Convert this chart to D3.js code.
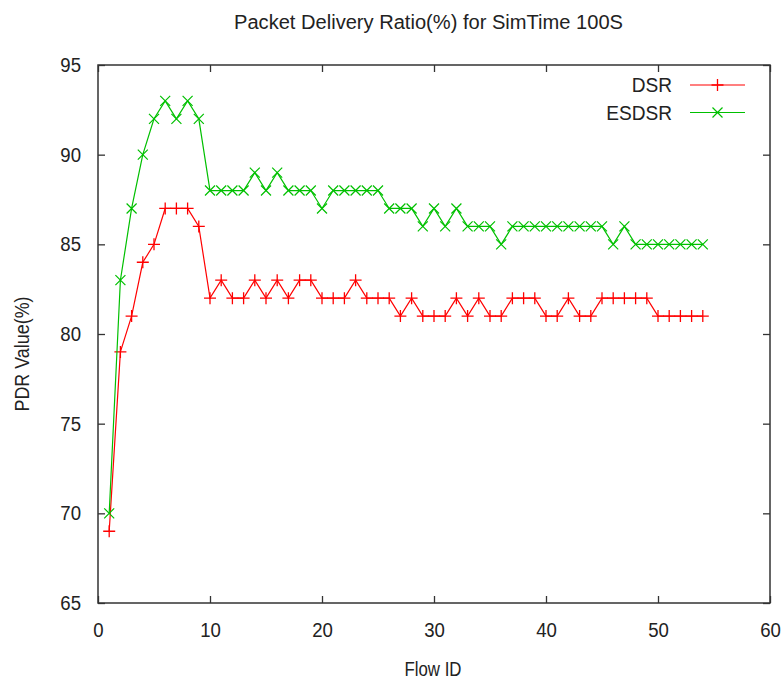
<!DOCTYPE html>
<html>
<head>
<meta charset="utf-8">
<script src="https://cdn.jsdelivr.net/npm/d3@7"></script>
<style>
  html, body { margin: 0; padding: 0; background: #fff; }
  svg text { font-family: "Liberation Sans", Arial, sans-serif; fill: #222; }
</style>
</head>
<body>
<svg id="chart" width="784" height="681"></svg>
<script>
// flow ids 1..54
var flowIds = d3.range(1, 55);

// packet delivery ratio per flow
var dsrValues = [69, 79, 81, 84, 85, 87, 87, 87, 86, 82,
                 83, 82, 82, 83, 82, 83, 82, 83, 83, 82,
                 82, 82, 83, 82, 82, 82, 81, 82, 81, 81,
                 81, 82, 81, 82, 81, 81, 82, 82, 82, 81,
                 81, 82, 81, 81, 82, 82, 82, 82, 82, 81,
                 81, 81, 81, 81];
var esdsrValues = [70, 83, 87, 90, 92, 93, 92, 93, 92, 88,
                   88, 88, 88, 89, 88, 89, 88, 88, 88, 87,
                   88, 88, 88, 88, 88, 87, 87, 87, 86, 87,
                   86, 87, 86, 86, 86, 85, 86, 86, 86, 86,
                   86, 86, 86, 86, 86, 85, 86, 85, 85, 85,
                   85, 85, 85, 85];

var xTicks = [0, 10, 20, 30, 40, 50, 60];
var yTicks = [65, 70, 75, 80, 85, 90, 95];

var seriesNames = ['DSR', 'ESDSR'];
var seriesColors = ['#ff0000', '#00c000'];

(function (d3) {
    var svg = d3.select('#chart'),
        margin = {left: 98, right: 14, top: 65, bottom: 78},
        width = 784 - margin.left - margin.right,
        height = 681 - margin.top - margin.bottom,
        tick = 7,
        fontSize = '20px';

    var x = d3.scaleLinear().domain([0, 60]).range([margin.left, margin.left + width]),
        y = d3.scaleLinear().domain([65, 95]).range([margin.top + height, margin.top]);

    var series = [dsrValues, esdsrValues].map(function (vals, i) {
        return {
            name: seriesNames[i],
            color: seriesColors[i],
            points: vals.map(function (v, j) { return {x: flowIds[j], y: v}; })
        };
    });

    // the original font is a bit narrower than Liberation Sans
    function squeeze(sel, k) {
        sel.each(function () {
            var len = this.getComputedTextLength();
            d3.select(this)
                .attr('textLength', len * k)
                .attr('lengthAdjust', 'spacingAndGlyphs');
        });
    }

    // axes: inward ticks on all four sides, gnuplot style
    var axisColor = '#333';
    function styleAxis(g) {
        g.select('.domain').remove();
        g.selectAll('line').attr('stroke', axisColor).attr('stroke-width', 1.3);
        g.selectAll('text').style('font-size', fontSize).attr('fill', '#222').call(squeeze, 0.93);
    }

    svg.append('g')
        .attr('transform', 'translate(0,' + (margin.top + height) + ')')
        .call(d3.axisBottom(x).tickValues(xTicks).tickSizeInner(-tick).tickSizeOuter(0).tickPadding(20))
        .call(styleAxis);
    svg.append('g')
        .attr('transform', 'translate(0,' + margin.top + ')')
        .call(d3.axisTop(x).tickValues(xTicks).tickSizeInner(-tick).tickSizeOuter(0).tickFormat(''))
        .call(styleAxis);
    svg.append('g')
        .attr('transform', 'translate(' + margin.left + ',0)')
        .call(d3.axisLeft(y).tickValues(yTicks).tickSizeInner(-tick).tickSizeOuter(0).tickPadding(17))
        .call(styleAxis);
    svg.append('g')
        .attr('transform', 'translate(' + (margin.left + width) + ',0)')
        .call(d3.axisRight(y).tickValues(yTicks).tickSizeInner(-tick).tickSizeOuter(0).tickFormat(''))
        .call(styleAxis);

    // frame
    svg.append('rect')
        .attr('x', margin.left).attr('y', margin.top)
        .attr('width', width).attr('height', height)
        .attr('fill', 'none').attr('stroke', axisColor).attr('stroke-width', 1.5);

    // lines
    var line = d3.line()
        .x(function (d) { return x(d.x); })
        .y(function (d) { return y(d.y); });

    function marker(g, name, cx, cy, color) {
        var s = 6;
        if (name === 'DSR') {
            g.append('path')
                .attr('d', 'M' + (cx - s) + ',' + cy + 'H' + (cx + s) + 'M' + cx + ',' + (cy - s) + 'V' + (cy + s))
                .attr('stroke', color).attr('stroke-width', 1.3).attr('fill', 'none');
        } else {
            s = 5;
            g.append('path')
                .attr('d', 'M' + (cx - s) + ',' + (cy - s) + 'L' + (cx + s) + ',' + (cy + s) +
                      'M' + (cx - s) + ',' + (cy + s) + 'L' + (cx + s) + ',' + (cy - s))
                .attr('stroke', color).attr('stroke-width', 1.2).attr('fill', 'none');
        }
    }

    series.forEach(function (s) {
        var g = svg.append('g');
        g.append('path')
            .datum(s.points)
            .attr('d', line)
            .attr('fill', 'none')
            .attr('stroke', s.color)
            .attr('stroke-width', 1.2);
        s.points.forEach(function (p) {
            marker(g, s.name, x(p.x), y(p.y), s.color);
        });
    });

    // legend
    var legendX = 672, legendY = 85, legendStep = 27.5;
    series.forEach(function (s, i) {
        var ly = legendY + i * legendStep;
        svg.append('text')
            .attr('x', legendX).attr('y', ly)
            .attr('dy', '0.36em')
            .attr('text-anchor', 'end')
            .style('font-size', fontSize)
            .text(s.name)
            .call(squeeze, 0.955);
        svg.append('line')
            .attr('x1', legendX + 18).attr('x2', legendX + 73)
            .attr('y1', ly).attr('y2', ly)
            .attr('stroke', s.color).attr('stroke-width', 1.2);
        marker(svg, s.name, legendX + 45.5, ly, s.color);
    });

    // titles
    svg.append('text')
        .attr('x', 428.5).attr('y', 29)
        .attr('text-anchor', 'middle')
        .style('font-size', fontSize)
        .text('Packet Delivery Ratio(%) for SimTime 100S')
        .attr('textLength', 389)
        .attr('lengthAdjust', 'spacingAndGlyphs');
    svg.append('text')
        .attr('x', 433).attr('y', 676)
        .attr('text-anchor', 'middle')
        .style('font-size', fontSize)
        .text('Flow ID')
        .attr('textLength', 57)
        .attr('lengthAdjust', 'spacingAndGlyphs');
    svg.append('text')
        .attr('transform', 'translate(29,354) rotate(-90)')
        .attr('text-anchor', 'middle')
        .style('font-size', fontSize)
        .text('PDR Value(%)')
        .attr('textLength', 115)
        .attr('lengthAdjust', 'spacingAndGlyphs');
}(window.d3));
</script>
</body>
</html>
